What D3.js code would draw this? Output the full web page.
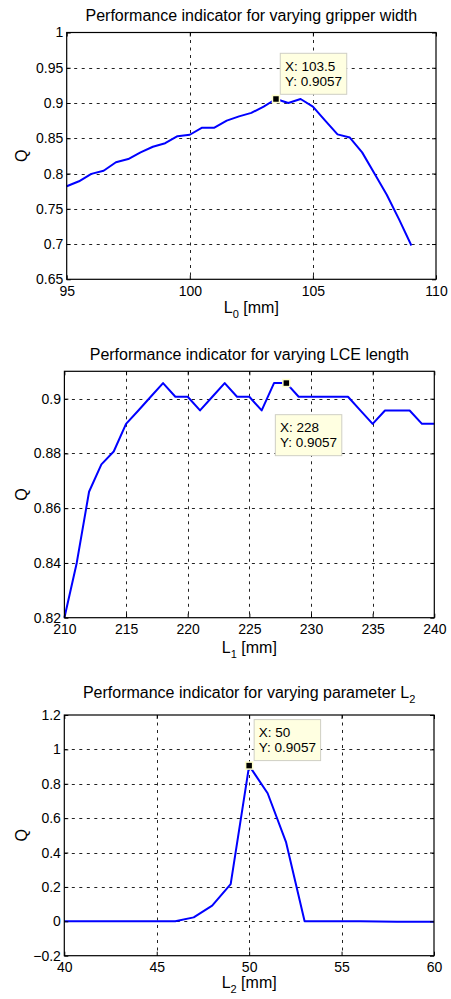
<!DOCTYPE html>
<html><head><meta charset="utf-8">
<script src="https://cdn.jsdelivr.net/npm/d3@7"></script>
<style>
body{margin:0;background:#fff}
svg{display:block}
text{font-family:"Liberation Sans",Arial,Helvetica,sans-serif;fill:#000}
</style>
</head><body>
<svg id="c" width="451" height="999"></svg>
<script>
// ---------- Data ----------
// Panel 1: varying gripper width L0
const l0Values = [95,95.5,96,96.5,97,97.5,98,98.5,99,99.5,100,100.5,101,101.5,102,102.5,103,103.5,104,104.5,105,105.5,106,106.5,107,107.5,108,108.5,109];
const q0Values = [0.782,0.789,0.7995,0.804,0.816,0.8205,0.830,0.838,0.843,0.853,0.855,0.865,0.865,0.875,0.881,0.886,0.895,0.9057,0.900,0.9057,0.895,0.875,0.8555,0.851,0.830,0.800,0.770,0.735,0.698];
const xTicks0 = [95,100,105,110];
const yTicks0 = [0.65,0.7,0.75,0.8,0.85,0.9,0.95,1];
const yTickLabels0 = ["0.65","0.7","0.75","0.8","0.85","0.9","0.95","1"];

// Panel 2: varying LCE length L1
const l1Values = [210,211,212,213,214,215,216,217,218,219,220,221,222,223,224,225,226,227,228,229,230,231,232,233,234,235,236,237,238,239,240];
const q1Values = [0.820,0.840,0.866,0.876,0.8807,0.8908,0.8957,0.9007,0.9057,0.9007,0.9007,0.8957,0.9007,0.9057,0.9007,0.9007,0.8957,0.9057,0.9057,0.9007,0.9007,0.9007,0.9007,0.9007,0.8957,0.8908,0.8957,0.8957,0.8957,0.8908,0.8908];
const xTicks1 = [210,215,220,225,230,235,240];
const yTicks1 = [0.82,0.84,0.86,0.88,0.9];
const yTickLabels1 = ["0.82","0.84","0.86","0.88","0.9"];

// Panel 3: varying parameter L2
const l2Values = [40,41,42,43,44,45,46,47,48,49,50,51,52,53,54,55,56,57,58,59,60];
const q2Values = [0,0,0,0,0,0,0,0.023,0.091,0.216,0.9057,0.745,0.459,0,0,0,0,-0.001,-0.002,-0.003,-0.003];
const xTicks2 = [40,45,50,55,60];
const yTicks2 = [-0.2,0,0.2,0.4,0.6,0.8,1,1.2];
const yTickLabels2 = ["\u22120.2","0","0.2","0.4","0.6","0.8","1","1.2"];

// Data cursor points
const cursors = [
  {x: 103.5, y: 0.9057, xs: "103.5"},
  {x: 228, y: 0.9057, xs: "228"},
  {x: 50, y: 0.9057, xs: "50"}
];

const svg = d3.select("#c");
const TICK_FS = 14, LABEL_FS = 16, SUB_FS = 11, TIP_FS = 13.5;

function drawPanel(cfg) {
  const g = svg.append("g");
  const x = d3.scaleLinear().domain(cfg.xDomain).range([cfg.left, cfg.right]);
  const y = d3.scaleLinear().domain(cfg.yDomain).range([cfg.bottom, cfg.top]);

  g.append("rect").attr("x", cfg.left).attr("y", cfg.top)
    .attr("width", cfg.right - cfg.left).attr("height", cfg.bottom - cfg.top)
    .attr("fill", "#fff");

  // grid
  const gx = cfg.xTicks.filter(v => v > cfg.xDomain[0] && v < cfg.xDomain[1]);
  const gy = cfg.yTicks.filter(v => v > cfg.yDomain[0] && v < cfg.yDomain[1]);
  g.selectAll(".gx").data(gx).join("line")
    .attr("x1", d => Math.round(x(d)) + 0.5).attr("x2", d => Math.round(x(d)) + 0.5)
    .attr("y1", cfg.top).attr("y2", cfg.bottom)
    .attr("stroke", "#222").attr("stroke-width", 1).attr("stroke-dasharray", "3,4.5");
  g.selectAll(".gy").data(gy).join("line")
    .attr("y1", d => Math.round(y(d)) + 0.5).attr("y2", d => Math.round(y(d)) + 0.5)
    .attr("x1", cfg.left).attr("x2", cfg.right)
    .attr("stroke", "#222").attr("stroke-width", 1).attr("stroke-dasharray", "3,4.5");

  // data line
  const pts = cfg.xs.map((v, i) => [v, cfg.ys[i]]);
  g.append("path").datum(pts)
    .attr("d", d3.line().x(d => x(d[0])).y(d => y(d[1])))
    .attr("fill", "none").attr("stroke", "#0000ff").attr("stroke-width", 2)
    .attr("stroke-linejoin", "round");

  // axes
  const bottom = g.append("g").attr("transform", `translate(0,${cfg.bottom})`)
    .call(d3.axisBottom(x).tickValues(cfg.xTicks).tickFormat(d => String(d))
      .tickSizeInner(-4).tickSizeOuter(0).tickPadding(6.8));
  const left = g.append("g").attr("transform", `translate(${cfg.left},0)`)
    .call(d3.axisLeft(y).tickValues(cfg.yTicks).tickFormat((d, i) => cfg.yTickLabels[i])
      .tickSizeInner(-4).tickSizeOuter(0).tickPadding(3.4));
  const top = g.append("g").attr("transform", `translate(0,${cfg.top})`)
    .call(d3.axisTop(x).tickValues(cfg.xTicks).tickFormat("")
      .tickSizeInner(-4).tickSizeOuter(0));
  const right = g.append("g").attr("transform", `translate(${cfg.right},0)`)
    .call(d3.axisRight(y).tickValues(cfg.yTicks).tickFormat("")
      .tickSizeInner(-4).tickSizeOuter(0));
  [bottom, left, top, right].forEach(a => {
    a.select(".domain").remove();
    a.selectAll("line").attr("stroke", "#000");
    a.selectAll("text").attr("font-size", TICK_FS).attr("fill", "#000")
      .style("font-family", '"Liberation Sans",Arial,Helvetica,sans-serif');
  });

  // box
  g.append("rect").attr("x", cfg.left).attr("y", cfg.top)
    .attr("width", cfg.right - cfg.left).attr("height", cfg.bottom - cfg.top)
    .attr("fill", "none").attr("stroke", "#000").attr("stroke-width", 1.2);

  // title
  const t = g.append("text").attr("x", (cfg.left + cfg.right) / 2).attr("y", cfg.titleY)
    .attr("text-anchor", "middle").attr("font-size", LABEL_FS);
  t.append("tspan").text(cfg.title);
  if (cfg.titleSub) {
    t.append("tspan").attr("dy", 5).attr("font-size", SUB_FS).text(cfg.titleSub);
  }

  // x label
  const xl = g.append("text").attr("x", (cfg.left + cfg.right) / 2).attr("y", cfg.xLabelY)
    .attr("text-anchor", "middle").attr("font-size", LABEL_FS);
  xl.append("tspan").text("L");
  xl.append("tspan").attr("dy", 5).attr("font-size", SUB_FS).text(cfg.sub);
  xl.append("tspan").attr("dy", -5).text(" [mm]");

  // y label
  g.append("text").attr("transform", `translate(27,${(cfg.top + cfg.bottom) / 2}) rotate(-90)`)
    .attr("text-anchor", "middle").attr("font-size", LABEL_FS).text("Q");

  // data cursor
  const c = cfg.cursor;
  const mx = x(c.x), my = y(c.y);
  const tipG = g.append("g");
  const bx = mx + cfg.tipDx, byTop = my + cfg.tipDy;
  const box = tipG.append("rect").attr("x", bx).attr("y", byTop)
    .attr("height", 41).attr("fill", "#ffffe1").attr("stroke", "#cfcfc4").attr("stroke-width", 1);
  const t1 = tipG.append("text").attr("x", bx + 4.7).attr("y", byTop + 17.7).attr("font-size", TIP_FS).text("X: " + c.xs);
  const t2 = tipG.append("text").attr("x", bx + 4.7).attr("y", byTop + 32.7).attr("font-size", TIP_FS).text("Y: " + c.y.toFixed(4));
  const w = Math.max(t1.node().getComputedTextLength(), t2.node().getComputedTextLength());
  box.attr("width", w + 9.4);
  g.append("rect").attr("x", mx - 3.5).attr("y", my - 3.5).attr("width", 7).attr("height", 7)
    .attr("fill", "#000").attr("stroke", "#ffffcc").attr("stroke-width", 1.5);
}

drawPanel({
  left: 66.7, right: 436, top: 32.5, bottom: 279.3,
  xDomain: [95, 110], yDomain: [0.65, 1],
  xTicks: xTicks0, yTicks: yTicks0, yTickLabels: yTickLabels0,
  xs: l0Values, ys: q0Values,
  title: "Performance indicator for varying gripper width", titleY: 21,
  sub: "0", xLabelY: 313.3,
  cursor: cursors[0], tipDx: 4.3, tipDy: -45.7
});
drawPanel({
  left: 64.4, right: 434.3, top: 371.3, bottom: 617.7,
  xDomain: [210, 240], yDomain: [0.82, 0.91],
  xTicks: xTicks1, yTicks: yTicks1, yTickLabels: yTickLabels1,
  xs: l1Values, ys: q1Values,
  title: "Performance indicator for varying LCE length", titleY: 360,
  sub: "1", xLabelY: 652.5,
  cursor: cursors[1], tipDx: -11, tipDy: 31.6
});
drawPanel({
  left: 64.3, right: 434, top: 715, bottom: 955.7,
  xDomain: [40, 60], yDomain: [-0.2, 1.2],
  xTicks: xTicks2, yTicks: yTicks2, yTickLabels: yTickLabels2,
  xs: l2Values, ys: q2Values,
  title: "Performance indicator for varying parameter L", titleSub: "2", titleY: 697.5,
  sub: "2", xLabelY: 988,
  cursor: cursors[2], tipDx: 5, tipDy: -46
});
</script>
</body></html>
